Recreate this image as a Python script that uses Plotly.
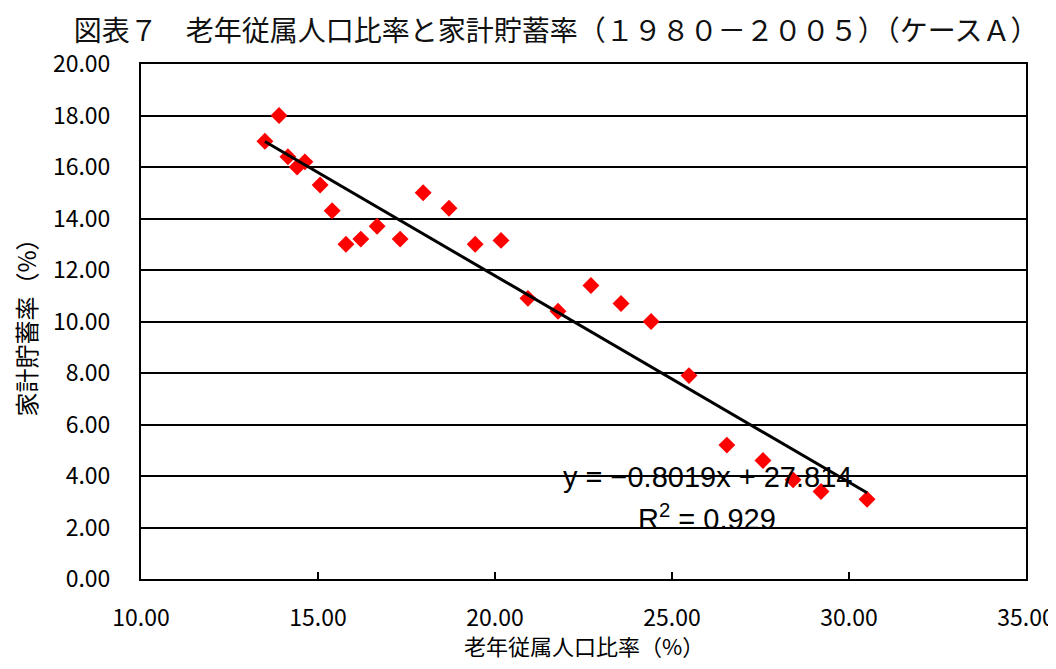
import numpy as np
import plotly.graph_objects as go

# 老年従属人口比率 (%) and 家計貯蓄率 (%), 1980-2005
years = list(range(1980, 2006))
dependency_ratio = [13.50, 13.90, 14.15, 14.41, 14.63, 15.06, 15.40, 15.79, 16.21, 16.67,
                    17.32, 17.97, 18.70, 19.44, 20.17, 20.93, 21.78, 22.71, 23.56, 24.41,
                    25.48, 26.55, 27.57, 28.42, 29.21, 30.51]
saving_rate = [17.0, 18.0, 16.4, 16.0, 16.2, 15.3, 14.3, 13.0, 13.2, 13.7,
               13.2, 15.0, 14.4, 13.0, 13.15, 10.9, 10.4, 11.4, 10.7, 10.0,
               7.9, 5.2, 4.6, 3.85, 3.4, 3.1]

# linear trendline as printed on the chart
slope = -0.8019
intercept = 27.814
x_trend = np.array([min(dependency_ratio), max(dependency_ratio)])
y_trend = slope * x_trend + intercept

x_ticks = [10, 15, 20, 25, 30, 35]
y_ticks = [0, 2, 4, 6, 8, 10, 12, 14, 16, 18, 20]

fig = go.Figure()

fig.add_trace(go.Scatter(
    x=dependency_ratio, y=saving_rate, mode="markers",
    marker=dict(symbol="diamond", color="#ff0000", size=13),
    showlegend=False,
))

fig.add_trace(go.Scatter(
    x=x_trend, y=y_trend, mode="lines",
    line=dict(color="black", width=3),
    showlegend=False,
))

eq_font = dict(family="Liberation Sans, Arial", size=29, color="black")
fig.add_annotation(x=26.0, y=3.97, xref="x", yref="y", showarrow=False,
                   text="y = −0.8019x + 27.814", font=eq_font)
fig.add_annotation(x=26.0, y=2.41, xref="x", yref="y", showarrow=False,
                   text="R<sup>2</sup> = 0.929", font=eq_font)

# x axis title as an annotation so it sits below the tick labels
fig.add_annotation(x=0.5, y=-0.129, xref="paper", yref="paper",
                   xanchor="center", yanchor="middle", showarrow=False,
                   text="老年従属人口比率（%）",
                   font=dict(family="Noto Sans CJK JP", size=22, color="black"))

# page body adds an 8px margin, so the figure is trimmed to avoid scrollbars
fig.update_layout(
    width=1048, height=653,
    paper_bgcolor="white", plot_bgcolor="white",
    margin=dict(l=133, r=30, t=56, b=82),
    title=dict(
        text="図表７　老年従属人口比率と家計貯蓄率（１９８０－２００５）（ケースＡ）",
        x=0.523, xanchor="center", y=0.9648, yanchor="middle",
        font=dict(family="Noto Sans CJK JP", size=28, color="#111"),
    ),
    font=dict(family="Noto Sans CJK JP", color="black"),
)

fig.update_xaxes(
    range=[10, 35], tickvals=x_ticks, ticktext=[f"{v:.2f}" for v in x_ticks],
    ticks="inside", ticklen=7, tickcolor="black", tickwidth=2,
    showgrid=False, zeroline=False, automargin=False,
    showline=True, linecolor="black", linewidth=2, mirror=True,
    tickfont=dict(family="Noto Sans CJK JP", size=23, color="black"),
    ticklabelstandoff=17,
)
fig.update_yaxes(
    range=[0, 20], tickvals=y_ticks, ticktext=[f"{v:.2f}" for v in y_ticks],
    ticks="", showgrid=True, gridcolor="black", gridwidth=2, zeroline=False,
    automargin=False,
    showline=True, linecolor="black", linewidth=2, mirror=True,
    tickfont=dict(family="Noto Sans CJK JP", size=23, color="black"),
    ticklabelstandoff=24,
    title=dict(text="家計貯蓄率（%）", standoff=16,
               font=dict(family="Noto Sans CJK JP", size=24, color="black")),
)

fig.write_html("out.html")
